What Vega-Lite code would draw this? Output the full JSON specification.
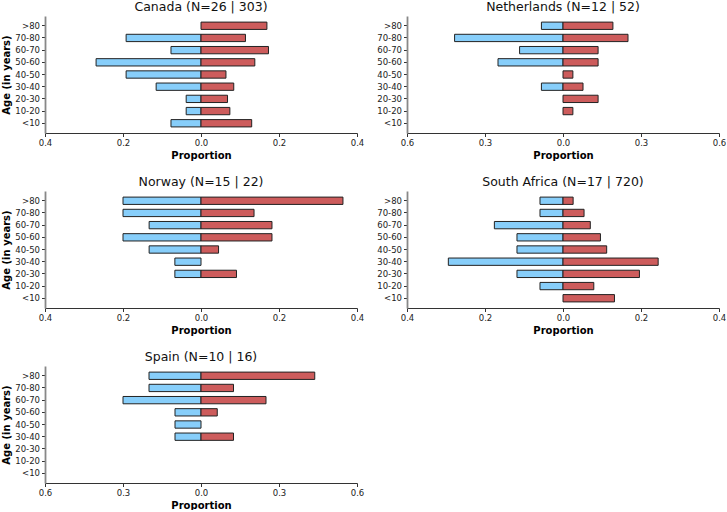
{
  "$schema": "https://vega.github.io/schema/vega-lite/v6.json",
  "padding": {"left": 1, "top": 0, "right": 0, "bottom": 0},
  "background": "white",
  "config": {
    "font": "DejaVu Sans",
    "view": {"stroke": null},
    "title": {"fontSize": 12.5, "fontWeight": "normal", "color": "#111", "offset": 3, "font": "DejaVu Sans"},
    "axis": {"grid": false, "labelFontSize": 8.5, "labelColor": "#222", "titleFontSize": 10, "titleFontWeight": "bold", "titleColor": "#000", "tickColor": "#333", "tickSize": 3.5, "labelPadding": 2, "labelFont": "DejaVu Sans", "titleFont": "DejaVu Sans"},
    "axisX": {"domainColor": "#333", "domainWidth": 1.2, "labelFlush": false, "labelOverlap": false, "titlePadding": 3},
    "axisY": {"domainColor": "#888", "domainWidth": 1.8, "titlePadding": 3},
    "concat": {"spacing": 50}
  },
  "datasets": {
    "pyr": [
      {"country": "Canada", "age": "70-80", "series": "A", "value": -0.192},
      {"country": "Canada", "age": "60-70", "series": "A", "value": -0.077},
      {"country": "Canada", "age": "50-60", "series": "A", "value": -0.269},
      {"country": "Canada", "age": "40-50", "series": "A", "value": -0.192},
      {"country": "Canada", "age": "30-40", "series": "A", "value": -0.115},
      {"country": "Canada", "age": "20-30", "series": "A", "value": -0.038},
      {"country": "Canada", "age": "10-20", "series": "A", "value": -0.038},
      {"country": "Canada", "age": "<10", "series": "A", "value": -0.077},
      {"country": "Canada", "age": ">80", "series": "B", "value": 0.169},
      {"country": "Canada", "age": "70-80", "series": "B", "value": 0.114},
      {"country": "Canada", "age": "60-70", "series": "B", "value": 0.173},
      {"country": "Canada", "age": "50-60", "series": "B", "value": 0.138},
      {"country": "Canada", "age": "40-50", "series": "B", "value": 0.064},
      {"country": "Canada", "age": "30-40", "series": "B", "value": 0.084},
      {"country": "Canada", "age": "20-30", "series": "B", "value": 0.068},
      {"country": "Canada", "age": "10-20", "series": "B", "value": 0.074},
      {"country": "Canada", "age": "<10", "series": "B", "value": 0.130},

      {"country": "Netherlands", "age": ">80", "series": "A", "value": -0.083},
      {"country": "Netherlands", "age": "70-80", "series": "A", "value": -0.417},
      {"country": "Netherlands", "age": "60-70", "series": "A", "value": -0.167},
      {"country": "Netherlands", "age": "50-60", "series": "A", "value": -0.25},
      {"country": "Netherlands", "age": "30-40", "series": "A", "value": -0.083},
      {"country": "Netherlands", "age": ">80", "series": "B", "value": 0.192},
      {"country": "Netherlands", "age": "70-80", "series": "B", "value": 0.25},
      {"country": "Netherlands", "age": "60-70", "series": "B", "value": 0.135},
      {"country": "Netherlands", "age": "50-60", "series": "B", "value": 0.135},
      {"country": "Netherlands", "age": "40-50", "series": "B", "value": 0.038},
      {"country": "Netherlands", "age": "30-40", "series": "B", "value": 0.077},
      {"country": "Netherlands", "age": "20-30", "series": "B", "value": 0.135},
      {"country": "Netherlands", "age": "10-20", "series": "B", "value": 0.038},

      {"country": "Norway", "age": ">80", "series": "A", "value": -0.2},
      {"country": "Norway", "age": "70-80", "series": "A", "value": -0.2},
      {"country": "Norway", "age": "60-70", "series": "A", "value": -0.133},
      {"country": "Norway", "age": "50-60", "series": "A", "value": -0.2},
      {"country": "Norway", "age": "40-50", "series": "A", "value": -0.133},
      {"country": "Norway", "age": "30-40", "series": "A", "value": -0.067},
      {"country": "Norway", "age": "20-30", "series": "A", "value": -0.067},
      {"country": "Norway", "age": ">80", "series": "B", "value": 0.364},
      {"country": "Norway", "age": "70-80", "series": "B", "value": 0.136},
      {"country": "Norway", "age": "60-70", "series": "B", "value": 0.182},
      {"country": "Norway", "age": "50-60", "series": "B", "value": 0.182},
      {"country": "Norway", "age": "40-50", "series": "B", "value": 0.045},
      {"country": "Norway", "age": "20-30", "series": "B", "value": 0.091},

      {"country": "South Africa", "age": ">80", "series": "A", "value": -0.059},
      {"country": "South Africa", "age": "70-80", "series": "A", "value": -0.059},
      {"country": "South Africa", "age": "60-70", "series": "A", "value": -0.176},
      {"country": "South Africa", "age": "50-60", "series": "A", "value": -0.118},
      {"country": "South Africa", "age": "40-50", "series": "A", "value": -0.118},
      {"country": "South Africa", "age": "30-40", "series": "A", "value": -0.294},
      {"country": "South Africa", "age": "20-30", "series": "A", "value": -0.118},
      {"country": "South Africa", "age": "10-20", "series": "A", "value": -0.059},
      {"country": "South Africa", "age": ">80", "series": "B", "value": 0.026},
      {"country": "South Africa", "age": "70-80", "series": "B", "value": 0.054},
      {"country": "South Africa", "age": "60-70", "series": "B", "value": 0.070},
      {"country": "South Africa", "age": "50-60", "series": "B", "value": 0.096},
      {"country": "South Africa", "age": "40-50", "series": "B", "value": 0.112},
      {"country": "South Africa", "age": "30-40", "series": "B", "value": 0.244},
      {"country": "South Africa", "age": "20-30", "series": "B", "value": 0.196},
      {"country": "South Africa", "age": "10-20", "series": "B", "value": 0.079},
      {"country": "South Africa", "age": "<10", "series": "B", "value": 0.132},

      {"country": "Spain", "age": ">80", "series": "A", "value": -0.2},
      {"country": "Spain", "age": "70-80", "series": "A", "value": -0.2},
      {"country": "Spain", "age": "60-70", "series": "A", "value": -0.3},
      {"country": "Spain", "age": "50-60", "series": "A", "value": -0.1},
      {"country": "Spain", "age": "40-50", "series": "A", "value": -0.1},
      {"country": "Spain", "age": "30-40", "series": "A", "value": -0.1},
      {"country": "Spain", "age": ">80", "series": "B", "value": 0.4375},
      {"country": "Spain", "age": "70-80", "series": "B", "value": 0.125},
      {"country": "Spain", "age": "60-70", "series": "B", "value": 0.25},
      {"country": "Spain", "age": "50-60", "series": "B", "value": 0.0625},
      {"country": "Spain", "age": "30-40", "series": "B", "value": 0.125}
    ]
  },
  "columns": 2,
  "spacing": {"column": 50, "row": 58},
  "bounds": "flush",
  "resolve": {"scale": {"x": "independent", "y": "independent", "color": "shared"}},
  "concat": [
    {
      "title": "Canada (N=26 | 303)",
      "width": 312, "height": 117,
      "data": {"name": "pyr"},
      "transform": [{"filter": "datum.country === 'Canada'"}],
      "mark": {"type": "bar", "stroke": "#222", "strokeWidth": 1},
      "encoding": {
        "y": {"field": "age", "type": "nominal", "scale": {"domain": [">80", "70-80", "60-70", "50-60", "40-50", "30-40", "20-30", "10-20", "<10"], "paddingInner": 0.4, "paddingOuter": 0.5}, "axis": {"title": "Age (in years)"}},
        "x": {"field": "value", "type": "quantitative", "scale": {"domain": [-0.4, 0.4], "nice": false}, "axis": {"title": "Proportion", "values": [-0.4, -0.2, 0, 0.2, 0.4], "labelExpr": "format(abs(datum.value), '.1f')"}},
        "color": {"field": "series", "type": "nominal", "scale": {"domain": ["A", "B"], "range": ["#87CEFA", "#CD5C5C"]}, "legend": null}
      }
    },
    {
      "title": "Netherlands (N=12 | 52)",
      "width": 312, "height": 117,
      "data": {"name": "pyr"},
      "transform": [{"filter": "datum.country === 'Netherlands'"}],
      "mark": {"type": "bar", "stroke": "#222", "strokeWidth": 1},
      "encoding": {
        "y": {"field": "age", "type": "nominal", "scale": {"domain": [">80", "70-80", "60-70", "50-60", "40-50", "30-40", "20-30", "10-20", "<10"], "paddingInner": 0.4, "paddingOuter": 0.5}, "axis": {"title": null}},
        "x": {"field": "value", "type": "quantitative", "scale": {"domain": [-0.6, 0.6], "nice": false}, "axis": {"title": "Proportion", "values": [-0.6, -0.3, 0, 0.3, 0.6], "labelExpr": "format(abs(datum.value), '.1f')"}},
        "color": {"field": "series", "type": "nominal", "scale": {"domain": ["A", "B"], "range": ["#87CEFA", "#CD5C5C"]}, "legend": null}
      }
    },
    {
      "title": "Norway (N=15 | 22)",
      "width": 312, "height": 117,
      "data": {"name": "pyr"},
      "transform": [{"filter": "datum.country === 'Norway'"}],
      "mark": {"type": "bar", "stroke": "#222", "strokeWidth": 1},
      "encoding": {
        "y": {"field": "age", "type": "nominal", "scale": {"domain": [">80", "70-80", "60-70", "50-60", "40-50", "30-40", "20-30", "10-20", "<10"], "paddingInner": 0.4, "paddingOuter": 0.5}, "axis": {"title": "Age (in years)"}},
        "x": {"field": "value", "type": "quantitative", "scale": {"domain": [-0.4, 0.4], "nice": false}, "axis": {"title": "Proportion", "values": [-0.4, -0.2, 0, 0.2, 0.4], "labelExpr": "format(abs(datum.value), '.1f')"}},
        "color": {"field": "series", "type": "nominal", "scale": {"domain": ["A", "B"], "range": ["#87CEFA", "#CD5C5C"]}, "legend": null}
      }
    },
    {
      "title": "South Africa (N=17 | 720)",
      "width": 312, "height": 117,
      "data": {"name": "pyr"},
      "transform": [{"filter": "datum.country === 'South Africa'"}],
      "mark": {"type": "bar", "stroke": "#222", "strokeWidth": 1},
      "encoding": {
        "y": {"field": "age", "type": "nominal", "scale": {"domain": [">80", "70-80", "60-70", "50-60", "40-50", "30-40", "20-30", "10-20", "<10"], "paddingInner": 0.4, "paddingOuter": 0.5}, "axis": {"title": null}},
        "x": {"field": "value", "type": "quantitative", "scale": {"domain": [-0.4, 0.4], "nice": false}, "axis": {"title": "Proportion", "values": [-0.4, -0.2, 0, 0.2, 0.4], "labelExpr": "format(abs(datum.value), '.1f')"}},
        "color": {"field": "series", "type": "nominal", "scale": {"domain": ["A", "B"], "range": ["#87CEFA", "#CD5C5C"]}, "legend": null}
      }
    },
    {
      "title": "Spain (N=10 | 16)",
      "width": 312, "height": 117,
      "data": {"name": "pyr"},
      "transform": [{"filter": "datum.country === 'Spain'"}],
      "mark": {"type": "bar", "stroke": "#222", "strokeWidth": 1},
      "encoding": {
        "y": {"field": "age", "type": "nominal", "scale": {"domain": [">80", "70-80", "60-70", "50-60", "40-50", "30-40", "20-30", "10-20", "<10"], "paddingInner": 0.4, "paddingOuter": 0.5}, "axis": {"title": "Age (in years)"}},
        "x": {"field": "value", "type": "quantitative", "scale": {"domain": [-0.6, 0.6], "nice": false}, "axis": {"title": "Proportion", "values": [-0.6, -0.3, 0, 0.3, 0.6], "labelExpr": "format(abs(datum.value), '.1f')"}},
        "color": {"field": "series", "type": "nominal", "scale": {"domain": ["A", "B"], "range": ["#87CEFA", "#CD5C5C"]}, "legend": null}
      }
    }
  ]
}
